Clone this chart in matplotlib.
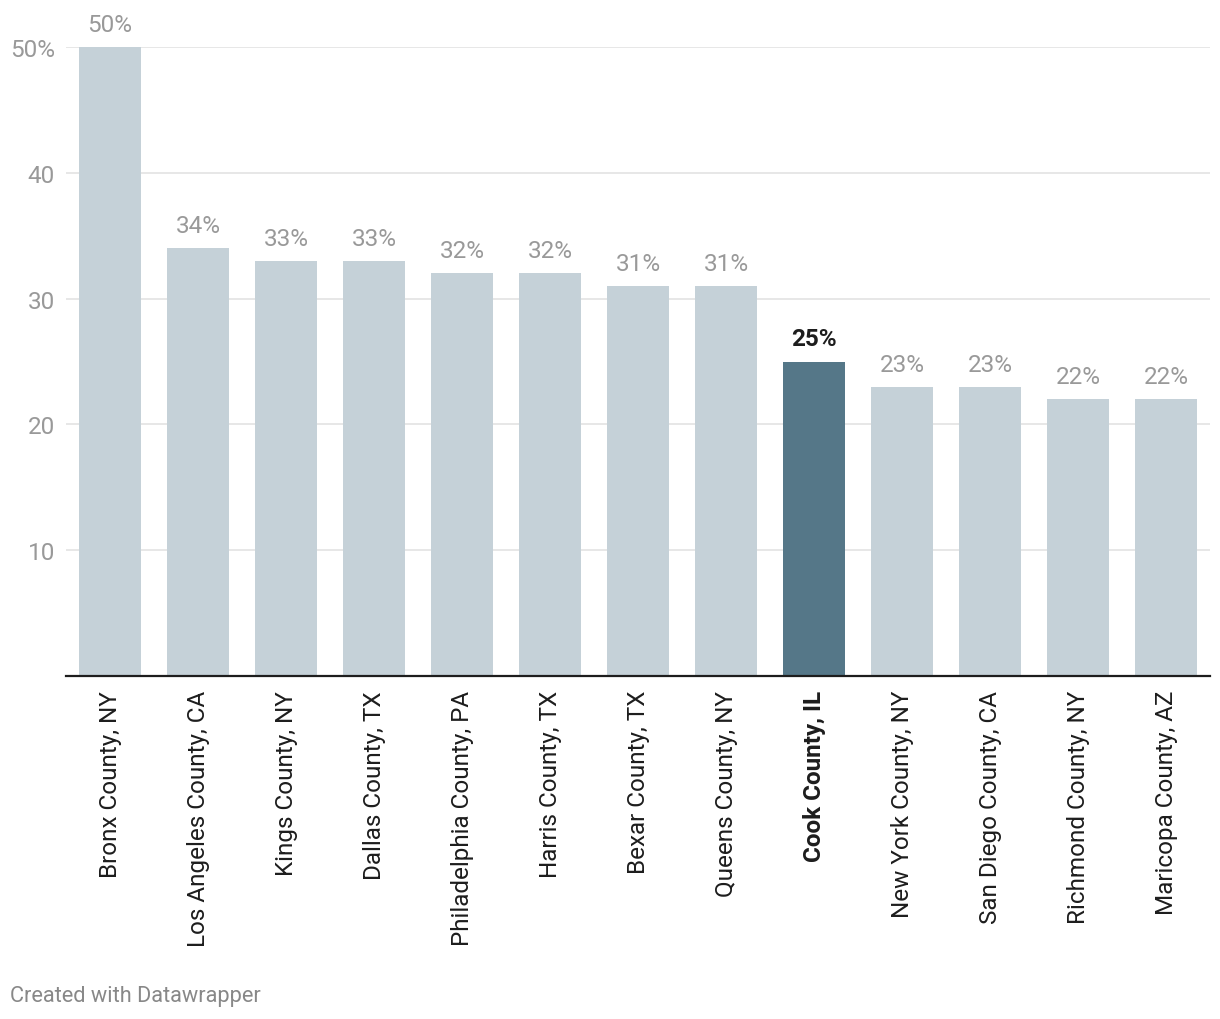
import matplotlib
matplotlib.use('Agg')
import matplotlib.pyplot as plt

plt.rcParams['font.family'] = ['Roboto', 'DejaVu Sans']

counties = ['Bronx County, NY', 'Los Angeles County, CA', 'Kings County, NY', 'Dallas County, TX',
            'Philadelphia County, PA', 'Harris County, TX', 'Bexar County, TX', 'Queens County, NY',
            'Cook County, IL', 'New York County, NY', 'San Diego County, CA', 'Richmond County, NY',
            'Maricopa County, AZ']
shares = [50, 34, 33, 33, 32, 32, 31, 31, 25, 23, 23, 22, 22]
highlight = 'Cook County, IL'

yticks = [10, 20, 30, 40, 50]
ytick_labels = ['10', '20', '30', '40', '50%']

LIGHT = '#c5d1d8'
DARK = '#557788'

fig = plt.figure(figsize=(12.2, 10.2), dpi=100)
ax = fig.add_axes([66 / 1220, 1 - 677 / 1020, 1144 / 1220, 629 / 1020])

xs = list(range(len(counties)))
colors = [DARK if c == highlight else LIGHT for c in counties]
ax.bar(xs, shares, width=62 / 88, color=colors, zorder=2)

for x, v, c in zip(xs, shares, counties):
    bold = c == highlight
    ax.annotate(f'{v}%', (x, v), xytext=(0, 8), textcoords='offset points',
                ha='center', va='bottom', fontsize=17.5,
                color='#1d1d1d' if bold else '#999999',
                fontweight='bold' if bold else 'normal')

ax.set_xlim(-0.5, len(counties) - 0.5)
ax.set_ylim(0, 50)
ax.set_yticks(yticks)
ax.set_yticklabels(ytick_labels)
ax.grid(axis='y', color='#e3e3e3', linewidth=1.2, zorder=0)
ax.tick_params(axis='y', length=0, pad=8, labelsize=17.5, labelcolor='#999999')

ax.set_xticks(xs)
ax.set_xticklabels(counties, rotation=90, fontsize=17.5, color='#1d1d1d')
for lbl in ax.get_xticklabels():
    if lbl.get_text() == highlight:
        lbl.set_fontweight('bold')
ax.tick_params(axis='x', length=0, pad=10)

for s in ['top', 'right', 'left']:
    ax.spines[s].set_visible(False)
ax.spines['bottom'].set_color('#1d1d1d')
ax.spines['bottom'].set_linewidth(1.6)
ax.spines['bottom'].set_zorder(3)

fig.text(10 / 1220, 1 - 997 / 1020, 'Created with Datawrapper', fontsize=15.7,
         color='#888888', ha='left', va='center')

fig.savefig('out.png', dpi=100, facecolor='white')
